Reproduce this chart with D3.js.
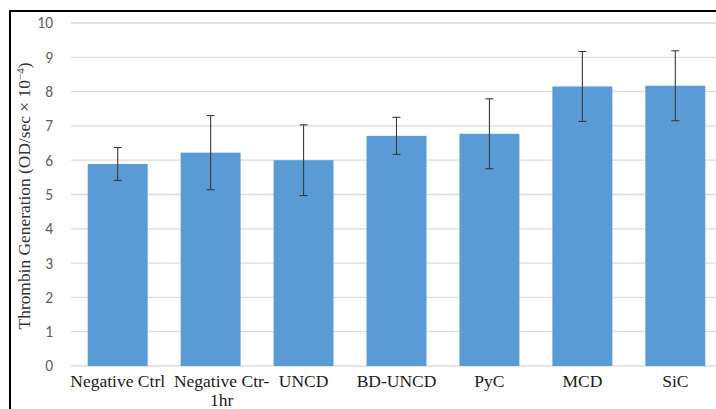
<!DOCTYPE html>
<html><head><meta charset="utf-8">
<script src="https://cdn.jsdelivr.net/npm/d3@7"></script>
<style>body{margin:0;background:#fff;overflow:hidden}</style>
</head><body>
<svg id="c" width="716" height="409"></svg>
<script>
const categories = ["Negative Ctrl", "Negative Ctr-1hr", "UNCD", "BD-UNCD", "PyC", "MCD", "SiC"];
const values = [5.89, 6.22, 6.00, 6.71, 6.77, 8.15, 8.17];
const errors = [0.48, 1.08, 1.03, 0.54, 1.02, 1.02, 1.02];
const yTicks = [0,1,2,3,4,5,6,7,8,9,10];

const svg = d3.select("#c");
const x = d3.scaleBand().domain(categories).range([71, 722]).paddingInner(0.355).paddingOuter(0.18);
const y = d3.scaleLinear().domain([0,10]).range([366, 23]);

// gridlines
svg.append("g").selectAll("line").data(yTicks).join("line")
  .attr("x1", 71).attr("x2", 716)
  .attr("y1", d => y(d)).attr("y2", d => y(d))
  .attr("stroke", "#dcdcdc").attr("stroke-width", 1.3);

// y axis labels
const yAxis = d3.axisLeft(y).tickValues(yTicks).tickSize(0).tickPadding(0);
const ga = svg.append("g").attr("transform", "translate(53,0)").call(yAxis);
ga.select(".domain").remove();
ga.selectAll("text").attr("font-family", "Carlito, 'Open Sans', sans-serif").attr("font-size", 15.5).attr("fill", "#606060");

// bars
svg.append("g").selectAll("rect").data(categories).join("rect")
  .attr("x", d => x(d)).attr("width", x.bandwidth())
  .attr("y", (d,i) => y(values[i])).attr("height", (d,i) => y(0) - y(values[i]))
  .attr("fill", "#5b9bd5");

// error bars
const eg = svg.append("g").attr("stroke", "#3a3a3a").attr("stroke-width", 1.1);
categories.forEach((c,i) => {
  const cx = x(c) + x.bandwidth()/2;
  const hi = y(values[i] + errors[i]), lo = y(values[i] - errors[i]);
  eg.append("line").attr("x1", cx).attr("x2", cx).attr("y1", hi).attr("y2", lo);
  eg.append("line").attr("x1", cx-4).attr("x2", cx+4).attr("y1", hi).attr("y2", hi);
  eg.append("line").attr("x1", cx-4).attr("x2", cx+4).attr("y1", lo).attr("y2", lo);
});

// x labels
const xl = svg.append("g").attr("font-family", "'Liberation Serif', 'Times New Roman', serif").attr("font-size", 17.5).attr("fill", "#1a1a1a").attr("text-anchor", "middle");
categories.forEach(c => {
  const wrapped = c === "Negative Ctr-1hr";
  const cx = x(c) + x.bandwidth()/2 + (wrapped ? 11 : 0);
  const lines = wrapped ? ["Negative Ctr-", "1hr"] : [c];
  lines.forEach((t, k) => xl.append("text").attr("x", cx).attr("y", 387 + k*19).text(t));
});

// y title
const title = svg.append("text")
  .attr("transform", "translate(30,196) rotate(-90)")
  .attr("text-anchor", "middle")
  .attr("font-family", "'Liberation Serif', 'Times New Roman', serif")
  .attr("font-size", 17.4).attr("fill", "#333");
title.append("tspan").text("Thrombin Generation (OD/sec × 10");
title.append("tspan").attr("dy", -6).attr("font-size", 11).text("−4");
title.append("tspan").attr("dy", 6).text(")");

// border
svg.append("line").attr("x1", 10).attr("x2", 716).attr("y1", 11).attr("y2", 11).attr("stroke", "#000").attr("stroke-width", 2);
svg.append("line").attr("x1", 10).attr("x2", 10).attr("y1", 10).attr("y2", 409).attr("stroke", "#000").attr("stroke-width", 2);
</script>
</body></html>
